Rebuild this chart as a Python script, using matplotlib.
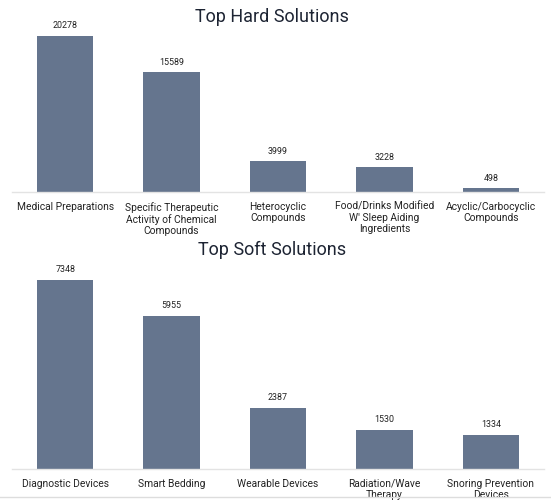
import matplotlib
matplotlib.use("Agg")
import matplotlib.pyplot as plt

# -----------------------------
# Data
# -----------------------------
hard_labels = [
    "Medical Preparations",
    "Specific Therapeutic\nActivity of Chemical\nCompounds",
    "Heterocyclic\nCompounds",
    "Food/Drinks Modified\nW' Sleep Aiding\nIngredients",
    "Acyclic/Carbocyclic\nCompounds",
]
hard_values = [20278, 15589, 3999, 3228, 498]

soft_labels = [
    "Diagnostic Devices",
    "Smart Bedding",
    "Wearable Devices",
    "Radiation/Wave\nTherapy",
    "Snoring Prevention\nDevices",
]
soft_values = [7348, 5955, 2387, 1530, 1334]

BAR_COLOR = "#65758e"
plt.rcParams["font.family"] = ["Roboto", "DejaVu Sans"]

W, H = 551, 500
fig = plt.figure(figsize=(W / 100, H / 100), dpi=100)


def panel(left, base, top, bar_top, labels, values, title, title_y):
    ax = fig.add_axes([left / W, 1 - base / H, 532 / W, (base - top) / H])
    x = range(len(values))
    ax.bar(x, values, width=0.53, color=BAR_COLOR)
    ymax = max(values) * (base - top) / (base - bar_top)
    ax.set_ylim(0, ymax)
    ax.set_xlim(-0.5, len(values) - 0.5)
    for xi, v in zip(x, values):
        ax.annotate(str(v), (xi, v), xytext=(0, 4), textcoords="offset points",
                    ha="center", va="bottom", fontsize=6.4, color="#222222")
    ax.set_xticks(list(x))
    ax.set_xticklabels(labels, fontsize=7.4, color="#222222", linespacing=1.15)
    ax.tick_params(axis="x", length=0, pad=7)
    ax.set_yticks([])
    for s in ["left", "right", "top"]:
        ax.spines[s].set_visible(False)
    ax.spines["bottom"].set_color("#e3e3e3")
    ax.spines["bottom"].set_linewidth(1.0)
    fig.text(272 / W, 1 - title_y / H, title, ha="center", va="center",
             fontsize=13, color="#1d2433")
    return ax


panel(12, 192, 30, 36, hard_labels, hard_values, "Top Hard Solutions", 17)
panel(12, 469, 268, 280, soft_labels, soft_values, "Top Soft Solutions", 250)

fig.add_artist(plt.Line2D([0, 1], [1 - 497 / H, 1 - 497 / H], color="#dddddd", lw=1))

fig.savefig("out.png", dpi=100, facecolor="white")
